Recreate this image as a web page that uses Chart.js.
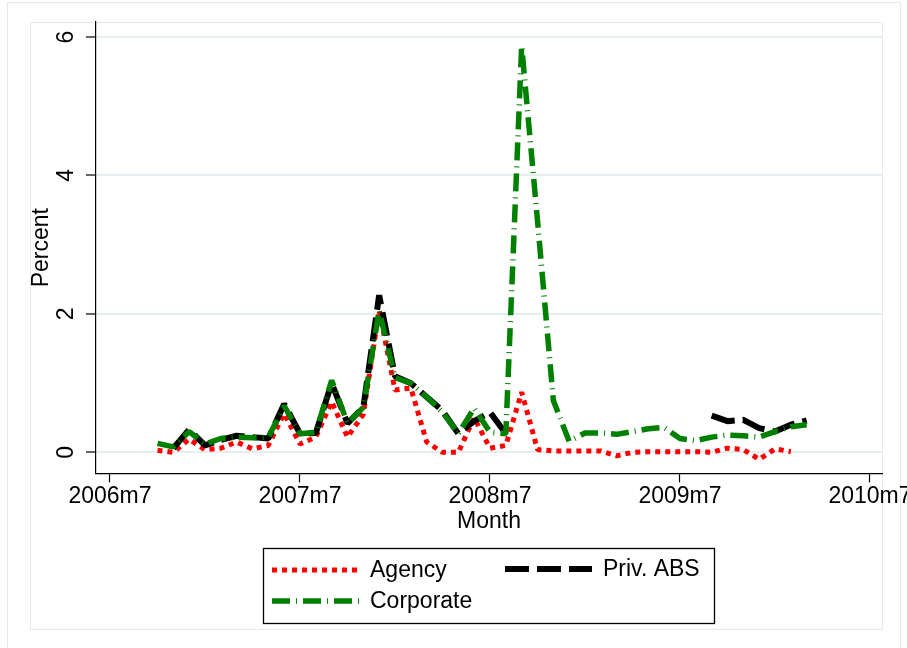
<!DOCTYPE html>
<html>
<head>
<meta charset="utf-8">
<script src="https://cdn.jsdelivr.net/npm/chart.js@4"></script>
<style>
  html, body { margin: 0; padding: 0; background: #ffffff; }
  #wrap { position: relative; width: 907px; height: 648px; overflow: hidden; background: #fff; }
  .frame { position: absolute; box-sizing: border-box; border: 1px solid #e3ebee; }
  canvas { position: absolute; left: 0; top: 0; }
</style>
</head>
<body>
<div id="wrap">
  <div class="frame" style="left:7px;top:2px;width:894px;height:650px;"></div>
  <div class="frame" style="left:30px;top:22px;width:853px;height:608px;"></div>
  <canvas id="c" width="907" height="648"></canvas>
</div>
<script>
// ---- data ----
const months = [
  '2006m10','2006m11','2006m12',
  '2007m1','2007m2','2007m3','2007m4','2007m5','2007m6','2007m7','2007m8','2007m9','2007m10','2007m11','2007m12',
  '2008m1','2008m2','2008m3','2008m4','2008m5','2008m6','2008m7','2008m8','2008m9','2008m10','2008m11','2008m12',
  '2009m1','2009m2','2009m3','2009m4','2009m5','2009m6','2009m7','2009m8','2009m9','2009m10','2009m11','2009m12',
  '2010m1','2010m2','2010m3'
];
const agency = [
  0.03, 0.00, 0.19, 0.04, 0.06, 0.15, 0.05, 0.10, 0.56, 0.12,
  0.22, 0.73, 0.22, 0.55, 2.05, 0.90, 0.93, 0.15, 0.00, 0.00,
  0.50, 0.06, 0.10, 0.87, 0.04, 0.02, 0.02, 0.02, 0.02, -0.05,
  0.00, 0.01, 0.01, 0.01, 0.01, 0.00, 0.06, 0.04, -0.10, 0.05,
  0.01, null
];
const privABS = [
  null, 0.06, 0.33, 0.10, 0.18, 0.24, 0.22, 0.20, 0.70, 0.27,
  0.28, 1.00, 0.42, 0.65, 2.27, 1.10, 1.00, 0.80, 0.60, 0.27,
  0.45, 0.58, 0.27, null, null, null, null, null, null, null,
  null, null, null, null, null, 0.53, 0.45, 0.47, 0.35, 0.30,
  0.40, 0.46
];
const corporate = [
  0.13, 0.08, 0.30, 0.12, 0.20, 0.22, 0.21, 0.22, 0.67, 0.27,
  0.29, 1.04, 0.42, 0.65, 2.05, 1.08, 1.00, 0.80, 0.58, 0.27,
  0.64, 0.29, 0.27, 5.87, 3.35, 0.75, 0.16, 0.28, 0.28, 0.26,
  0.30, 0.34, 0.36, 0.20, 0.17, 0.22, 0.25, 0.24, 0.22, 0.30,
  0.37, 0.40
];
const seriesNames = ['Agency', 'Priv. ABS', 'Corporate'];
const xTickLabels = ['2006m7', '2007m7', '2008m7', '2009m7', '2010m7'];
const yTickValues = [0, 2, 4, 6];

// ---- helpers ----
function monthIndex(s) {
  const [y, m] = s.split('m').map(Number);
  return (y - 2006) * 12 + (m - 7);
}
const xTickValues = xTickLabels.map(monthIndex);
const toPoints = arr => months.map((mo, i) => ({ x: monthIndex(mo), y: arr[i] }));

const FONT = "'Liberation Sans', Arial, Helvetica, sans-serif";
Chart.defaults.font.family = FONT;
Chart.defaults.font.size = 23;
Chart.defaults.color = '#000';

const legendPlugin = {
  id: 'stataLegend',
  afterDraw(chart) {
    const ctx = chart.ctx;
    const ds = chart.data.datasets;
    ctx.save();
    ctx.strokeStyle = '#000';
    ctx.lineWidth = 1.3;
    ctx.setLineDash([]);
    ctx.strokeRect(263.5, 548.5, 451, 75);
    const entries = [
      { d: ds[0], sx: 272, ex: 360, tx: 370, y: 570 },
      { d: ds[1], sx: 505, ex: 592, tx: 603, y: 569 },
      { d: ds[2], sx: 272, ex: 360, tx: 370, y: 601 }
    ];
    entries.forEach(e => {
      ctx.beginPath();
      ctx.strokeStyle = e.d.borderColor;
      ctx.lineWidth = e.d.borderWidth;
      ctx.lineCap = 'butt';
      ctx.setLineDash(e.d.borderDash || []);
      ctx.moveTo(e.sx, e.y);
      ctx.lineTo(e.ex, e.y);
      ctx.stroke();
      ctx.setLineDash([]);
      ctx.fillStyle = '#000';
      ctx.font = '23px ' + FONT;
      ctx.textAlign = 'left';
      ctx.textBaseline = 'middle';
      ctx.fillText(e.d.label, e.tx, e.y + 1);
    });
    ctx.restore();
  }
};

new Chart(document.getElementById('c'), {
  type: 'line',
  data: {
    datasets: [
      {
        label: seriesNames[0],
        data: toPoints(agency),
        borderColor: '#ff0000',
        borderWidth: 5,
        borderDash: [5, 5],
        borderCapStyle: 'butt',
        borderJoinStyle: 'bevel',
        pointRadius: 0,
        tension: 0,
        spanGaps: false,
        order: 3
      },
      {
        label: seriesNames[1],
        data: toPoints(privABS),
        borderColor: '#000000',
        borderWidth: 6,
        borderDash: [24, 8],
        borderCapStyle: 'butt',
        borderJoinStyle: 'bevel',
        pointRadius: 0,
        tension: 0,
        spanGaps: false,
        order: 2
      },
      {
        label: seriesNames[2],
        data: toPoints(corporate),
        borderColor: '#008000',
        borderWidth: 5.5,
        borderDash: [18, 6, 1, 6],
        borderCapStyle: 'butt',
        borderJoinStyle: 'bevel',
        pointRadius: 0,
        tension: 0,
        spanGaps: false,
        order: 1
      }
    ]
  },
  options: {
    responsive: false,
    animation: false,
    devicePixelRatio: 1,
    layout: { padding: { left: 30, right: 25, top: 22, bottom: 115 } },
    plugins: {
      legend: { display: false },
      tooltip: { enabled: false },
      title: { display: false }
    },
    scales: {
      x: {
        type: 'linear',
        min: -0.884,
        max: 48.758,
        afterBuildTicks: s => { s.ticks = xTickValues.map(v => ({ value: v })); },
        afterFit: s => { s.paddingLeft = 0; s.paddingRight = 0; },
        ticks: {
          autoSkip: false,
          maxRotation: 0,
          minRotation: 0,
          padding: 0,
          font: { size: 23 },
          color: '#000',
          callback: v => xTickLabels[xTickValues.indexOf(v)]
        },
        grid: {
          drawOnChartArea: false,
          drawTicks: true,
          tickLength: 9,
          tickColor: '#000',
          tickWidth: 1.2
        },
        border: { display: true, color: '#000', width: 1.2 },
        title: {
          display: true,
          text: 'Month',
          color: '#000',
          font: { size: 23, lineHeight: 1 },
          padding: { top: 0, bottom: 0 }
        }
      },
      y: {
        type: 'linear',
        min: -0.304,
        max: 6.217,
        afterBuildTicks: s => { s.ticks = yTickValues.map(v => ({ value: v })); },
        afterFit: s => { s.width = 66; s.paddingTop = 0; s.paddingBottom = 0; },
        ticks: {
          minRotation: 90,
          maxRotation: 90,
          crossAlign: 'center',
          padding: 13,
          font: { size: 23 },
          color: '#000',
          callback: v => String(v)
        },
        grid: {
          color: '#e6eef1',
          lineWidth: 2,
          drawTicks: true,
          tickLength: 10,
          tickColor: '#000',
          tickWidth: 1.2
        },
        border: { display: true, color: '#000', width: 1.2 },
        title: {
          display: true,
          text: 'Percent',
          color: '#000',
          font: { size: 23, lineHeight: 1 },
          padding: { top: 0.5, bottom: 0 }
        }
      }
    }
  },
  plugins: [legendPlugin]
});
</script>
</body>
</html>
